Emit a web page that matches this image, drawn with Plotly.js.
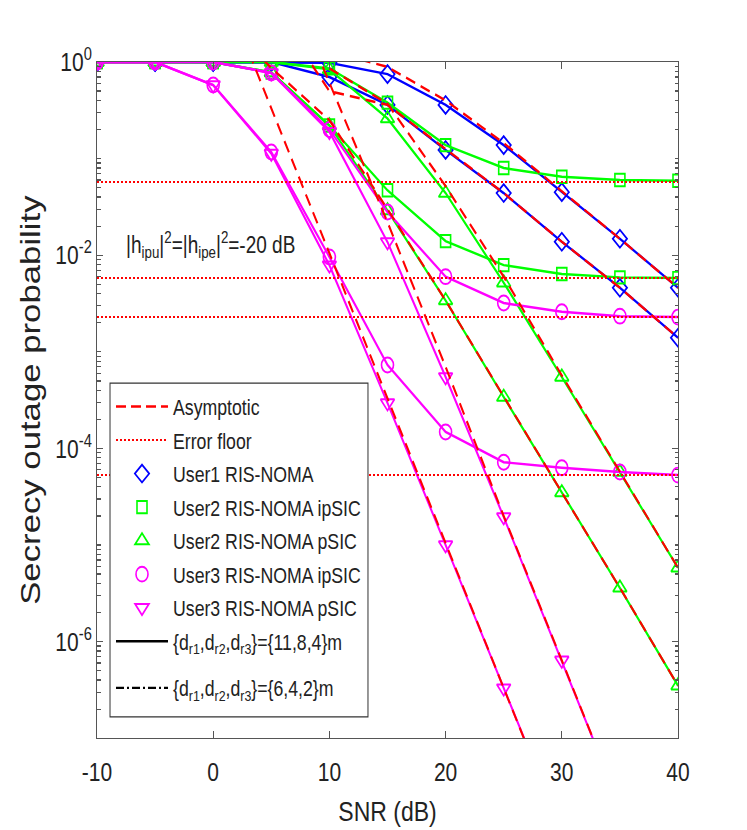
<!DOCTYPE html>
<html><head><meta charset="utf-8">
<script src="https://cdn.plot.ly/plotly-3.0.1.min.js"></script>
<style>
html,body{margin:0;padding:0;background:#fff}
#wrap{position:relative;width:747px;height:830px;overflow:hidden;background:#fff}
#chart{position:absolute;left:0;top:0;width:747px;height:669px;transform:scaleY(1.2407);transform-origin:0 0}
</style></head><body><div id="wrap"><div id="chart"></div></div>
<script>
// SNR points (dB)
const snr = [-10, -5, 0, 5, 10, 15, 20, 25, 30, 35, 40];

// User1 RIS-NOMA
const user1_far  = [1, 1, 1, 1, 0.98, 0.75, 0.36, 0.138, 0.045, 0.0148, 0.0046];
const user1_near = [1, 1, 1, 1, 0.70, 0.36, 0.123, 0.044, 0.0138, 0.0046, 0.0014];
// User2 RIS-NOMA ipSIC
const user2_ipsic_far  = [1, 1, 1, 1, 0.86, 0.38, 0.138, 0.08, 0.065, 0.06, 0.059];
const user2_ipsic_near = [1, 1, 1, 0.78, 0.22, 0.047, 0.014, 0.0079, 0.0064, 0.0059, 0.0058];
// User2 RIS-NOMA pSIC
const user2_psic_far  = [1, 1, 1, 1, 0.84, 0.26, 0.044, 0.0052, 5.5e-4, 5.7e-5, 5.8e-6];
const user2_psic_near = [1, 1, 1, 0.78, 0.22, 0.029, 0.0034, 3.4e-4, 3.5e-5, 3.6e-6, 3.5e-7];
// User3 RIS-NOMA ipSIC
const user3_ipsic_far  = [1, 1, 1, 0.77, 0.20, 0.028, 0.006, 0.0032, 0.0026, 0.00234, 0.00229];
const user3_ipsic_near = [1, 1, 0.578, 0.117, 0.0096, 7.3e-4, 1.48e-4, 7.2e-5, 6.3e-5, 5.7e-5, 5.3e-5];
// User3 RIS-NOMA pSIC
const user3_psic_far  = [1, 1, 1, 0.77, 0.19, 0.0137, 5.5e-4, 1.95e-5, 6.4e-7, 2e-8];
const user3_psic_near = [1, 1, 0.578, 0.113, 0.0079, 2.95e-4, 1.0e-5, 3.3e-7, 1.1e-8];

// Asymptotic curves
const asym1_x = [10, 15, 20, 25, 30, 35, 40];
const asym1_y = [1.3, 0.89, 0.40, 0.145, 0.046, 0.0148, 0.0046];
const asym2_x = [5, 10, 15, 20, 25, 30, 35, 40];
const asym2_y = [4.0, 0.5, 0.36, 0.125, 0.044, 0.0138, 0.0046, 0.0014];
const asym3_x = [10, 15, 20, 25, 30, 35, 40];
const asym3_y = [0.86, 0.37, 0.052, 0.006, 5.7e-4, 5.7e-5, 5.8e-6];
const asym4_x = [0, 5, 10, 15, 20, 25, 30, 35, 40];
const asym4_y = [3.5, 0.87, 0.25, 0.030, 0.0034, 3.4e-4, 3.5e-5, 3.6e-6, 3.5e-7];
const asym5_x = [0, 5, 10, 15, 20, 25, 30];
const asym5_y = [10.5, 0.34, 0.0105, 3.3e-4, 1.05e-5, 3.3e-7, 1.05e-8];
const asym6_x = [5, 10, 15, 20, 25, 30, 35];
const asym6_y = [17, 0.6, 0.022, 7e-4, 2.0e-5, 6.4e-7, 2e-8];

// Error floors
const floor_x = [-10, 40];
const floor_levels = [0.0573, 0.0058, 0.00229, 5.3e-5];

// Axis ticks
const xTickVals = [-10, 0, 10, 20, 30, 40];
const xTickText = ['-10', '0', '10', '20', '30', '40'];
const yTickVals = [1, 1e-2, 1e-4, 1e-6];
const yTickText = ['10<sup>0</sup>', '10<sup>-2</sup>', '10<sup>-4</sup>', '10<sup>-6</sup>'];

const BLUE = 'rgb(0,0,255)', GREEN = 'rgb(0,255,0)', MAG = 'rgb(255,0,255)', RED = 'rgb(255,0,0)';
const FONT = 'Liberation Sans, Arial, sans-serif';

const yMinor = [];
for (let k = -7; k < 0; k++) {
  for (let m = 1; m <= 9; m++) {
    if (m === 1 && (k % 2 === 0)) continue;
    yMinor.push(m * Math.pow(10, k));
  }
}

function curve(y, color, symbol, size) {
  return {
    x: snr.slice(0, y.length), y: y, type: 'scatter', mode: 'lines+markers',
    line: {color: color, width: 2},
    marker: {symbol: symbol, size: size, color: color, line: {color: color, width: 1.6}},
    showlegend: false, hoverinfo: 'skip', cliponaxis: true
  };
}
function asym(x, y) {
  return {x: x, y: y, type: 'scatter', mode: 'lines',
    line: {color: RED, width: 2, dash: '10px,6px'}, showlegend: false, hoverinfo: 'skip'};
}

const traces = [
  curve(user1_far, BLUE, 'diamond-open', 11),
  curve(user1_near, BLUE, 'diamond-open', 11),
  curve(user2_ipsic_far, GREEN, 'square-open', 10),
  curve(user2_ipsic_near, GREEN, 'square-open', 10),
  curve(user2_psic_far, GREEN, 'triangle-up-open', 12),
  curve(user2_psic_near, GREEN, 'triangle-up-open', 12),
  curve(user3_ipsic_far, MAG, 'circle-open', 12),
  curve(user3_ipsic_near, MAG, 'circle-open', 12),
  curve(user3_psic_far, MAG, 'triangle-down-open', 12),
  curve(user3_psic_near, MAG, 'triangle-down-open', 12)
];
floor_levels.forEach(v => traces.push({
  x: floor_x, y: [v, v], type: 'scatter', mode: 'lines',
  line: {color: RED, width: 1.6, dash: '2px,2px'}, showlegend: false, hoverinfo: 'skip'
}));
traces.push(asym(asym1_x, asym1_y), asym(asym2_x, asym2_y), asym(asym3_x, asym3_y),
            asym(asym4_x, asym4_y), asym(asym5_x, asym5_y), asym(asym6_x, asym6_y));

// legend-only entries
function leg(name, opts, which) {
  return Object.assign({x: [null], y: [null], type: 'scatter', name: name, showlegend: true,
    legendgroup: name, legend: which || 'legend', hoverinfo: 'skip'}, opts);
}
traces.push(
  leg('Asymptotic', {mode: 'lines', line: {color: RED, width: 2, dash: '10px,5px'}}),
  leg('Error floor', {mode: 'lines', line: {color: RED, width: 1.6, dash: '2px,2px'}}),
  leg('User1 RIS-NOMA', {mode: 'markers', marker: {symbol: 'diamond-open', size: 11, color: BLUE, line: {color: BLUE, width: 1.6}}}),
  leg('User2 RIS-NOMA ipSIC', {mode: 'markers', marker: {symbol: 'square-open', size: 10, color: GREEN, line: {color: GREEN, width: 1.6}}}),
  leg('User2 RIS-NOMA pSIC', {mode: 'markers', marker: {symbol: 'triangle-up-open', size: 12, color: GREEN, line: {color: GREEN, width: 1.6}}}),
  leg('User3 RIS-NOMA ipSIC', {mode: 'markers', marker: {symbol: 'circle-open', size: 12, color: MAG, line: {color: MAG, width: 1.6}}}),
  leg('User3 RIS-NOMA pSIC', {mode: 'markers', marker: {symbol: 'triangle-down-open', size: 12, color: MAG, line: {color: MAG, width: 1.6}}}),
  leg('{d<sub>r1</sub>,d<sub>r2</sub>,d<sub>r3</sub>}={11,8,4}m', {mode: 'lines', line: {color: '#000', width: 2}}),
  leg('{d<sub>r1</sub>,d<sub>r2</sub>,d<sub>r3</sub>}={6,4,2}m', {mode: 'lines', line: {color: '#000', width: 2, dash: '8px,3px,2px,3px'}}, 'legend2')
);

const legendCommon = {
  xanchor: 'left', yanchor: 'top', bgcolor: 'rgba(0,0,0,0)', borderwidth: 0,
  font: {family: FONT, size: 17.7, color: '#222'},
  itemwidth: 52, traceorder: 'grouped', tracegroupgap: 1
};

const layout = {
  width: 747, height: 669,
  margin: {l: 97, r: 69, t: 50, b: 74, pad: 0},
  paper_bgcolor: '#fff', plot_bgcolor: '#fff',
  font: {family: FONT, color: '#222'},
  showlegend: true,
  legend: Object.assign({x: 0.0241, y: 0.5235}, legendCommon),
  legend2: Object.assign({x: 0.0241, y: 0.1075}, legendCommon),
  shapes: [{
    type: 'rect', xref: 'paper', yref: 'paper', layer: 'above',
    x0: 0.0224, x1: 0.4664, y0: 0.0314, y1: 0.5253,
    fillcolor: '#fff', line: {color: '#333', width: 1}
  }],
  xaxis: {
    range: [-10, 40], tickmode: 'array', tickvals: xTickVals, ticktext: xTickText,
    ticks: 'inside', ticklen: 6, tickcolor: '#555', tickwidth: 1,
    showline: true, linecolor: '#555', linewidth: 1, mirror: 'ticks',
    showgrid: false, zeroline: false,
    tickfont: {family: FONT, size: 21, color: '#222'},
    ticklabelstandoff: 8,
    title: {text: 'SNR (dB)', font: {family: FONT, size: 23, color: '#222'}, standoff: 13}
  },
  yaxis: {
    type: 'log', range: [-7, 0], tickmode: 'array', tickvals: yTickVals, ticktext: yTickText,
    ticks: 'inside', ticklen: 6, tickcolor: '#555', tickwidth: 1,
    minor: {tickmode: 'array', tickvals: yMinor, ticks: 'inside', ticklen: 3.5, tickcolor: '#555', showgrid: false},
    showline: true, linecolor: '#555', linewidth: 1, mirror: 'ticks',
    showgrid: false, zeroline: false,
    tickfont: {family: FONT, size: 21, color: '#222'},
    title: {text: 'Secrecy outage probability', font: {family: FONT, size: 28, color: '#222'}, standoff: 6}
  },
  annotations: [{
    xref: 'paper', yref: 'paper', x: 0.0465, y: 0.729, xanchor: 'left', yanchor: 'middle',
    text: '|h<sub>ipu</sub>|<sup>2</sup>=|h<sub>ipe</sub>|<sup>2</sup>=-20 dB',
    showarrow: false, font: {family: FONT, size: 19, color: '#222'}
  }]
};

Plotly.newPlot('chart', traces, layout, {staticPlot: true, displayModeBar: false});
</script></body></html>
